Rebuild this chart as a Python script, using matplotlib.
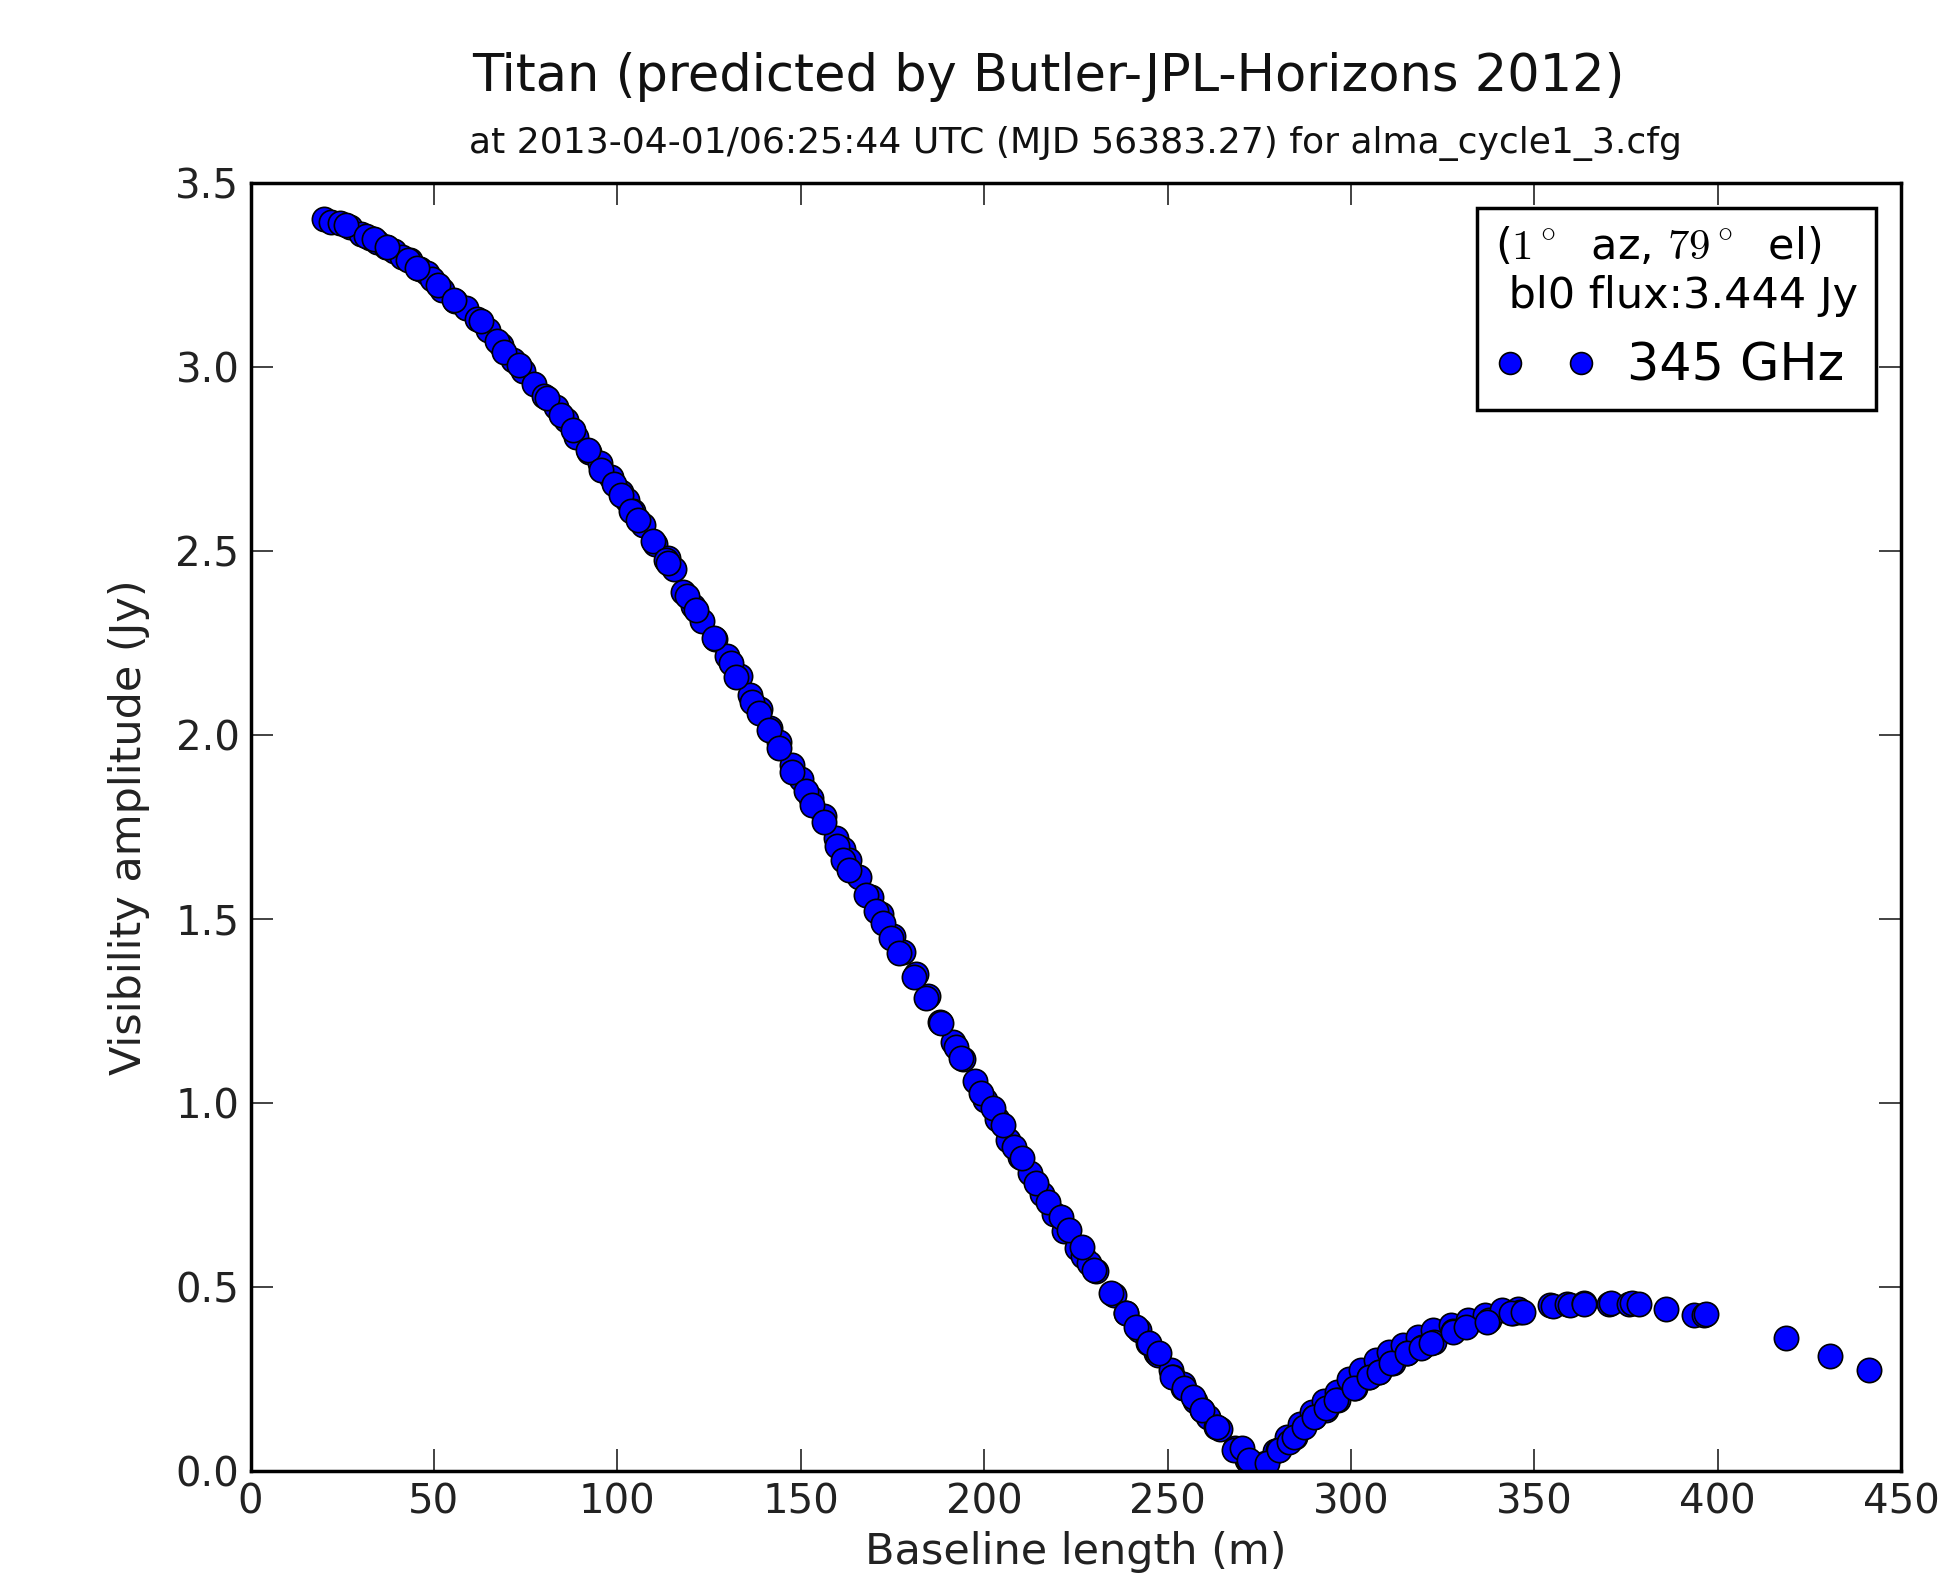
import matplotlib
matplotlib.use('Agg')
import matplotlib.pyplot as plt

# baseline length (m) and visibility amplitude (Jy)
baseline = [19.9, 22.0, 24.3, 27.0, 30.0, 32.7, 34.5, 36.8, 39.0, 41.2, 43.6, 46.3, 48.0,
            49.6, 52.3, 55.7, 58.7, 61.8, 64.8, 68.2, 71.6, 74.3, 77.3, 80.0, 83.4,
            86.1, 88.8, 92.2, 95.2, 98.2, 100.9, 102.5, 104.3, 107.0, 110.4, 113.8, 115.5,
            117.8, 120.5, 123.2, 126.6, 130.0, 133.4, 136.1, 138.8, 141.5, 144.2,
            147.5, 150.2, 152.9, 156.3, 159.7, 161.5, 163.1, 165.8, 169.1, 171.8, 175.2,
            177.9, 181.3, 184.7, 188.0, 191.4, 194.1, 197.5, 200.2, 203.6, 206.6,
            209.7, 212.4, 215.7, 219.1, 221.8, 225.2, 227.0, 228.6, 230.6, 235.3, 238.7,
            242.1, 244.8, 246.9, 247.5, 250.8, 251.5, 254.1, 254.2, 257.6, 259.3, 261.0,
            263.2, 264.3, 268.4, 271.7, 271.8, 275.8, 276.9, 279.2, 280.2, 282.6,
            284.7, 286.0, 289.3, 289.9, 292.7, 293.2, 296.1, 296.5, 299.5, 301.0,
            302.8, 304.9, 306.9, 307.6, 310.3, 311.5, 314.3, 315.4, 318.4, 319.3,
            322.4, 322.6, 327.2, 327.8, 331.7, 331.9, 336.6, 337.6, 341.3, 344.1,
            345.4, 346.0, 354.2, 355.1, 358.9, 359.7, 363.5, 363.6, 370.4, 370.9,
            375.8, 376.6, 378.5, 385.9, 393.5, 396.3, 396.7, 418.5, 430.6, 441.3,
            # second, closer reading of the dense parts
            26.0, 31.4, 33.7, 37.3, 42.8, 45.5, 51.0, 55.5, 62.8, 67.3, 69.1, 73.2,
            80.9, 84.6, 87.8, 91.9, 95.5, 99.1, 101.0, 103.7, 105.5, 109.6, 113.2,
            113.7, 119.1, 121.4, 126.4, 130.9, 132.3, 136.8, 138.7, 141.4, 144.1,
            147.7, 151.4, 153.2, 156.4, 160.0, 161.4, 163.2, 167.7, 170.5, 172.3,
            174.6, 176.8, 180.9, 184.1, 188.2, 192.3, 193.6, 199.1, 202.3, 205.0,
            208.2, 210.4, 214.1, 217.3, 220.9, 223.2, 226.8, 230.0, 234.5, 238.6,
            241.4, 245.0, 247.7, 251.3, 254.5, 256.8, 259.5, 263.6, 268.2, 270.4,
            272.3, 277.2, 280.4, 283.2, 284.5, 287.2, 290.0, 293.2, 295.9, 300.9,
            305.0, 307.7, 310.9, 315.4, 319.1, 321.8, 327.7, 331.3, 337.2, 343.6, 346.8]
amplitude = [3.403, 3.395, 3.39, 3.38, 3.36, 3.35, 3.34, 3.325, 3.315, 3.30, 3.29, 3.265, 3.255,
             3.24, 3.21, 3.18, 3.16, 3.13, 3.10, 3.06, 3.02, 2.99, 2.955, 2.92, 2.89,
             2.855, 2.81, 2.77, 2.74, 2.70, 2.66, 2.64, 2.61, 2.57, 2.52, 2.48, 2.45,
             2.39, 2.35, 2.31, 2.26, 2.215, 2.16, 2.11, 2.07, 2.02, 1.98,
             1.92, 1.88, 1.83, 1.78, 1.72, 1.69, 1.66, 1.615, 1.56, 1.515, 1.455,
             1.41, 1.35, 1.29, 1.22, 1.165, 1.12, 1.06, 1.01, 0.956, 0.90,
             0.855, 0.81, 0.754, 0.70, 0.653, 0.606, 0.585, 0.565, 0.545, 0.478, 0.43,
             0.384, 0.35, 0.321, 0.316, 0.276, 0.257, 0.226, 0.236, 0.19, 0.167, 0.148,
             0.121, 0.114, 0.063, 0.031, 0.027, 0.02, 0.022, 0.054, 0.058, 0.094,
             0.094, 0.128, 0.16, 0.148, 0.19, 0.167, 0.215, 0.194, 0.25, 0.226,
             0.276, 0.257, 0.303, 0.271, 0.323, 0.293, 0.343, 0.321, 0.364, 0.339,
             0.384, 0.352, 0.397, 0.38, 0.398, 0.41, 0.424, 0.411, 0.437, 0.43,
             0.44, 0.434, 0.451, 0.448, 0.454, 0.452, 0.458, 0.454, 0.454, 0.458,
             0.454, 0.458, 0.454, 0.441, 0.425, 0.425, 0.427, 0.363, 0.314, 0.276,
             3.387, 3.355, 3.348, 3.326, 3.290, 3.269, 3.224, 3.183, 3.124, 3.070, 3.042, 3.006,
             2.916, 2.870, 2.830, 2.775, 2.721, 2.683, 2.653, 2.608, 2.585, 2.528, 2.476,
             2.467, 2.377, 2.340, 2.264, 2.196, 2.159, 2.091, 2.060, 2.014, 1.965,
             1.901, 1.847, 1.811, 1.763, 1.700, 1.661, 1.634, 1.566, 1.521, 1.489,
             1.448, 1.408, 1.344, 1.285, 1.217, 1.154, 1.122, 1.027, 0.986, 0.941,
             0.882, 0.851, 0.783, 0.733, 0.690, 0.656, 0.610, 0.547, 0.484, 0.429,
             0.393, 0.348, 0.321, 0.257, 0.226, 0.203, 0.167, 0.121, 0.058, 0.0625,
             0.031, 0.022, 0.058, 0.080, 0.094, 0.121, 0.148, 0.171, 0.194, 0.226,
             0.257, 0.271, 0.293, 0.321, 0.334, 0.348, 0.379, 0.393, 0.407, 0.429, 0.434]

plt.rcParams['mathtext.fontset'] = 'cm'

fig = plt.figure(figsize=(19.42, 15.77), dpi=100)
ax = fig.add_axes([0.129, 0.067, 0.850, 0.817])

ax.plot(baseline, amplitude, 'o', color='blue', markeredgecolor='black',
        markeredgewidth=1.2, markersize=17.5, label='345 GHz')

ax.set_xlim(0, 450)
ax.set_ylim(0, 3.5)
ax.set_xticks(range(0, 451, 50))
ax.set_yticks([0.0, 0.5, 1.0, 1.5, 2.0, 2.5, 3.0, 3.5])
ax.set_yticklabels(['0.0', '0.5', '1.0', '1.5', '2.0', '2.5', '3.0', '3.5'])
ax.tick_params(direction='in', top=True, right=True, length=16, width=1.2,
               labelsize=29, colors='#222222', pad=8)
for s in ax.spines.values():
    s.set_linewidth(2.5)

ax.set_xlabel('Baseline length (m)', fontsize=31, color='#222222')
ax.set_ylabel('Visibility amplitude (Jy)', fontsize=31, color='#222222')
ax.xaxis.set_label_coords(0.5, -0.046)
ax.yaxis.set_label_coords(-0.061, 0.5)

fig.text(0.540, 0.951, 'Titan (predicted by Butler-JPL-Horizons 2012)',
         fontsize=36.7, ha='center', va='center', color='#111111')
fig.text(0.554, 0.909, 'at 2013-04-01/06:25:44 UTC (MJD 56383.27) for alma_cycle1_3.cfg',
         fontsize=26, ha='center', va='center', color='#111111')

leg = ax.legend(loc='upper right', numpoints=2, fontsize=36.5, fancybox=False,
                title='($1^\\circ$  az, $79^\\circ$  el)\n bl0 flux:3.444 Jy',
                title_fontsize=31, borderaxespad=0.5, handletextpad=0.6,
                borderpad=0.35, framealpha=1, markerscale=0.9)
leg.get_frame().set_edgecolor('black')
leg.get_frame().set_linewidth(2.5)
leg._legend_box.align = 'left'

fig.savefig('out.png', dpi=100)
